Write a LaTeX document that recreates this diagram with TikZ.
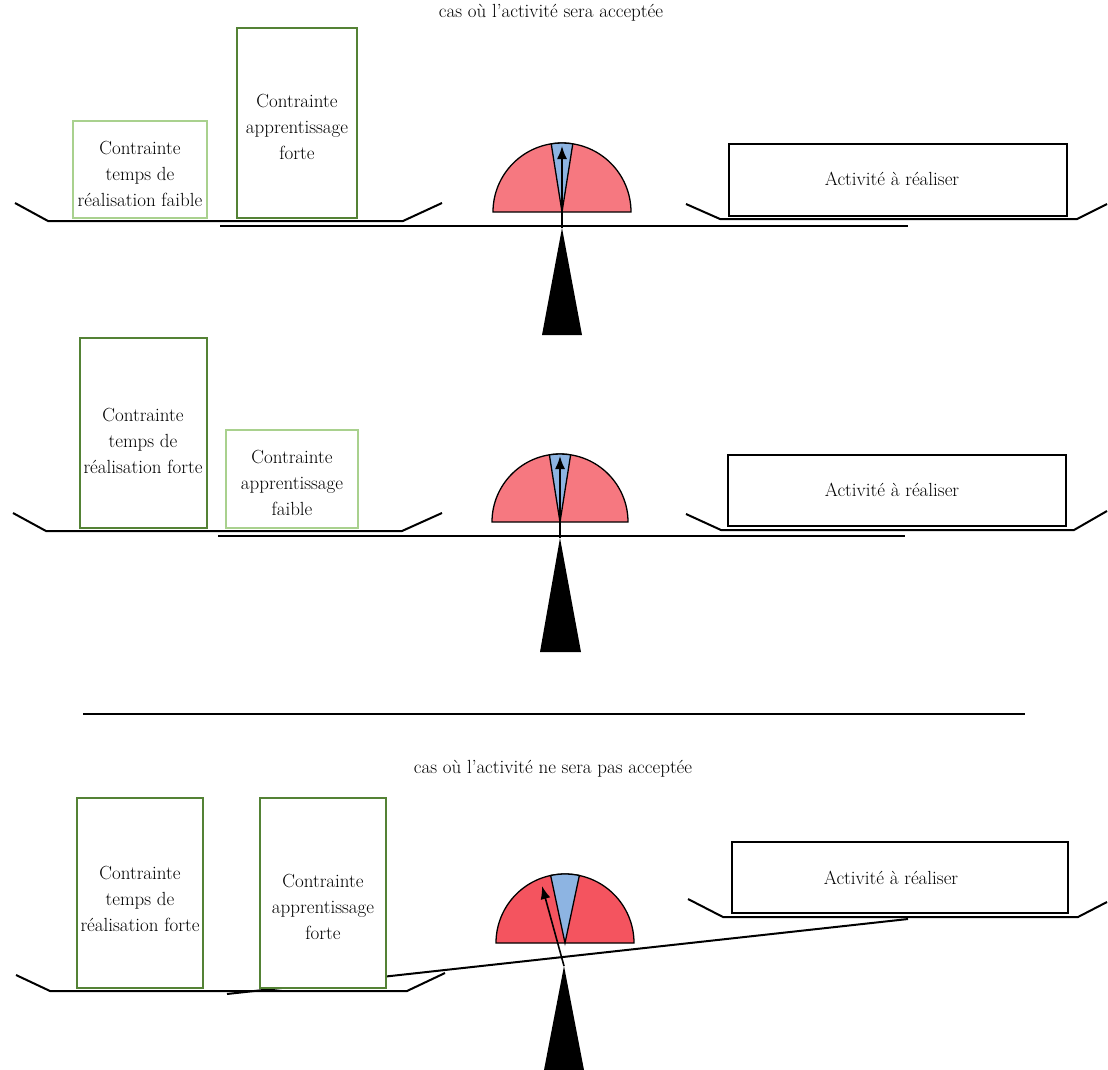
\documentclass[tikz,border=0pt]{standalone}
\usetikzlibrary{arrows.meta}
\definecolor{fortegreen}{RGB}{84,130,53}
\definecolor{faiblegreen}{RGB}{169,209,142}
\definecolor{rose}{RGB}{246,120,128}
\definecolor{rouge}{RGB}{244,84,95}
\definecolor{bleu}{RGB}{141,180,226}
\tikzset{
	txt/.style={align=center,font=\fontsize{19}{26}\selectfont},
	forte/.style={draw=fortegreen,fill=white,line width=2.6},
	faible/.style={draw=faiblegreen,fill=white,line width=2},
	activite/.style={draw=black,fill=white,line width=2},
	plateau/.style={line width=2},
	cadran/.style={draw=black,line width=1.3},
	aiguille/.style={line width=1.6,-{Latex[length=13pt,width=10pt]}}
}
\begin{document}
\begin{tikzpicture}[x=1pt,y=-1pt]
		\useasboundingbox (0,0) rectangle (1108,1070);
		% cas 1
		\node[txt] (titre1) at (551,13) {cas où l'activité sera acceptée};
		\coordinate (C1) at (562,212);
		\coordinate (S1) at (562,228);
		\draw[plateau] (220,226) -- (908,226);
		\draw[plateau] (15,203) -- (48,221) -- (403,221) -- (442,203);
		\draw[plateau] (686,204) -- (720,219) -- (1077,219) -- (1107,204);
		\draw[faible] (73,121) rectangle (207,218);
		\node[txt] (temps1) at (140,174) {Contrainte\\temps de\\réalisation faible};
		\draw[forte] (237,28) rectangle (357,218);
		\node[txt] (app1) at (297,127) {Contrainte\\apprentissage\\forte};
		\draw[activite] (729,144) rectangle (1067,216);
		\node[txt] (act1) at (892,179) {Activité à réaliser};
		\draw[cadran,fill=rose] (C1) ++(-69,0) arc[start angle=-180,end angle=0,radius=69] -- cycle;
		\draw[cadran,fill=bleu] (C1) -- ++(-99:69) arc[start angle=-99,end angle=-81,radius=69] -- cycle;
		\draw[aiguille] (S1) -- (562,146);
		\fill (S1) -- (582,335) -- (542,335) -- cycle;
		% cas 2
		\coordinate (C2) at (560,522);
		\coordinate (S2) at (560,538);
		\draw[plateau] (218,536) -- (905,536);
		\draw[plateau] (13,513) -- (46,531) -- (402,531) -- (442,513);
		\draw[plateau] (686,514) -- (721,530) -- (1074,530) -- (1107,511);
		\draw[forte] (80,338) rectangle (207,528);
		\node[txt] (temps2) at (143,441) {Contrainte\\temps de\\réalisation forte};
		\draw[faible] (226,430) rectangle (358,528);
		\node[txt] (app2) at (292,483) {Contrainte\\apprentissage\\faible};
		\draw[activite] (728,455) rectangle (1066,526);
		\node[txt] (act2) at (892,490) {Activité à réaliser};
		\draw[cadran,fill=rose] (C2) ++(-68,0) arc[start angle=-180,end angle=0,radius=68] -- cycle;
		\draw[cadran,fill=bleu] (C2) -- ++(-99:68) arc[start angle=-99,end angle=-81,radius=68] -- cycle;
		\draw[aiguille] (S2) -- (560,456);
		\fill (S2) -- (581,652) -- (540,652) -- cycle;
		% separation
		\draw[line width=1.5] (83,714) -- (1025,714);
		% cas 3
		\node[txt] (titre3) at (553,769) {cas où l'activité ne sera pas acceptée};
		\coordinate (C3) at (565,943);
		\coordinate (S3) at (564,966);
		\draw[plateau] (227,994) -- (908,919);
		\draw[plateau] (16,975) -- (50,991) -- (407,991) -- (445,973);
		\draw[plateau] (688,899) -- (723,917) -- (1078,917) -- (1107,902);
		\draw[forte] (77,798) rectangle (203,988);
		\node[txt] (temps3) at (140,899) {Contrainte\\temps de\\réalisation forte};
		\draw[forte] (260,798) rectangle (386,988);
		\node[txt] (app3) at (323,907) {Contrainte\\apprentissage\\forte};
		\draw[activite] (732,842) rectangle (1068,913);
		\node[txt] (act3) at (891,878) {Activité à réaliser};
		\draw[cadran,fill=rouge] (C3) ++(-69,0) arc[start angle=-180,end angle=0,radius=69] -- cycle;
		\draw[cadran,fill=bleu] (C3) -- ++(-102:69) arc[start angle=-102,end angle=-78,radius=69] -- cycle;
		\draw[aiguille] (S3) -- (542,886);
		\fill (S3) -- (584,1070) -- (544,1070) -- cycle;
	\end{tikzpicture}
\end{document}
